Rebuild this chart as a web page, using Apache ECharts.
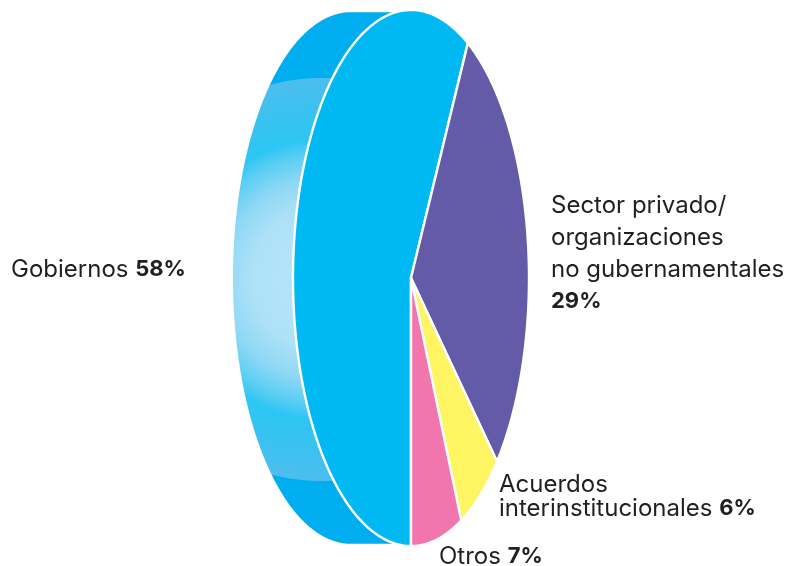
<!DOCTYPE html>
<html><head><meta charset="utf-8">
<style>html,body{margin:0;padding:0;background:#fff}#c{width:787px;height:566px}</style>
<script src="https://cdn.jsdelivr.net/npm/echarts@6/dist/echarts.min.js"></script>
</head><body><div id="c"></div>
<script>
const categories = ['Gobiernos', 'Sector privado / ONG', 'Acuerdos interinstitucionales', 'Otros'];
const values = [58, 29, 6, 7];
const sliceColors = ['#00B9F2', '#645BA8', '#FFF461', '#F276AE'];
const labelLines = [
  ['Gobiernos {b|58%}'],
  ['Sector privado/', 'organizaciones', 'no gubernamentales', '{b|29%}'],
  ['Acuerdos', 'interinstitucionales {b|6%}'],
  ['Otros {b|7%}']
];
const labelX = [11, 551, 499, 439];
const labelBaselines = [[277], [213, 245, 277, 308], [492, 516], [564]];

const total = values.reduce((a, b) => a + b, 0);
const START = Math.PI;
const STEP = Math.PI / 180;
const DEPTH_X = -60 / 118;     // extrusion, in axis units
const BACK_Y = 0.992;
const FONT = 'Inter';
const FONT_SIZE = 24;
const BOLD_SIZE = 22;
const BASE_SHIFT = 4.5;

function angleBefore(i) {
  let s = 0;
  for (let k = 0; k < i; k++) s += values[k];
  return START + s / total * 2 * Math.PI;
}

function renderItem(params, api) {
  const i = params.dataIndex;
  const v = api.value(1);
  const a0 = angleBefore(i), a1 = a0 + v / total * 2 * Math.PI;
  const pt = t => api.coord([Math.sin(t), Math.cos(t)]);
  const children = [];

  if (i === 0) {
    const pts = [];
    for (let t = Math.PI; t <= 2 * Math.PI + 1e-6; t += STEP) {
      pts.push(api.coord([Math.sin(t) + DEPTH_X, Math.cos(t) * BACK_Y]));
    }
    pts.push(api.coord([0, BACK_Y]));
    pts.push(api.coord([0, -BACK_Y]));
    const c = api.coord([-89 / 118, -1.5 / 268]);
    const R = 320;
    const s = d => d / R;
    children.push({
      type: 'polygon',
      shape: { points: pts },
      style: {
        fill: {
          type: 'radial', x: c[0], y: c[1], r: R, global: true,
          colorStops: [
            { offset: 0, color: '#B8E5F9' },
            { offset: s(70), color: '#AEE1F8' },
            { offset: s(100), color: '#8FD8F5' },
            { offset: s(125), color: '#5ACEF3' },
            { offset: s(140), color: '#2DC6F3' },
            { offset: s(170), color: '#3AC2F0' },
            { offset: s(201), color: '#4DBDEE' },
            { offset: s(202), color: '#00AEEF' },
            { offset: 1, color: '#00AEEF' }
          ]
        }
      }
    });
  }

  const poly = [api.coord([0, 0])];
  const n = Math.max(2, Math.ceil((a1 - a0) / STEP));
  for (let k = 0; k <= n; k++) poly.push(pt(a0 + (a1 - a0) * k / n));
  children.push({
    type: 'polygon',
    shape: { points: poly },
    style: { fill: sliceColors[i], stroke: '#fff', lineWidth: 2.4, lineJoin: 'round' }
  });
  return { type: 'group', children };
}

function renderLabel(params, api) {
  const i = params.dataIndex;
  return {
    type: 'group',
    children: labelLines[i].map((line, k) => ({
      type: 'text',
      x: labelX[i],
      y: labelBaselines[i][k] + BASE_SHIFT,
      style: {
        text: line,
        fill: '#231F20',
        fontFamily: FONT,
        fontSize: FONT_SIZE,
        verticalAlign: 'bottom',
        align: 'left',
        rich: { b: { fontWeight: 'bold', fontSize: BOLD_SIZE, fontFamily: FONT, fill: '#231F20' } }
      }
    }))
  };
}

const chart = echarts.init(document.getElementById('c'), null, { renderer: 'canvas' });
const rows = categories.map((c, i) => [i, values[i]]);
chart.setOption({
  animation: false,
  backgroundColor: '#fff',
  grid: { left: 293, top: 10, width: 236, height: 536 },
  xAxis: { type: 'value', min: -1, max: 1, show: false },
  yAxis: { type: 'value', min: -1, max: 1, show: false },
  series: [
    { type: 'custom', coordinateSystem: 'cartesian2d', silent: true, renderItem, data: rows, encode: { x: 0, y: 1 }, z: 2 },
    { type: 'custom', coordinateSystem: 'cartesian2d', silent: true, renderItem: renderLabel, data: rows, encode: { x: 0, y: 1 }, z: 3 }
  ]
});
</script></body></html>
